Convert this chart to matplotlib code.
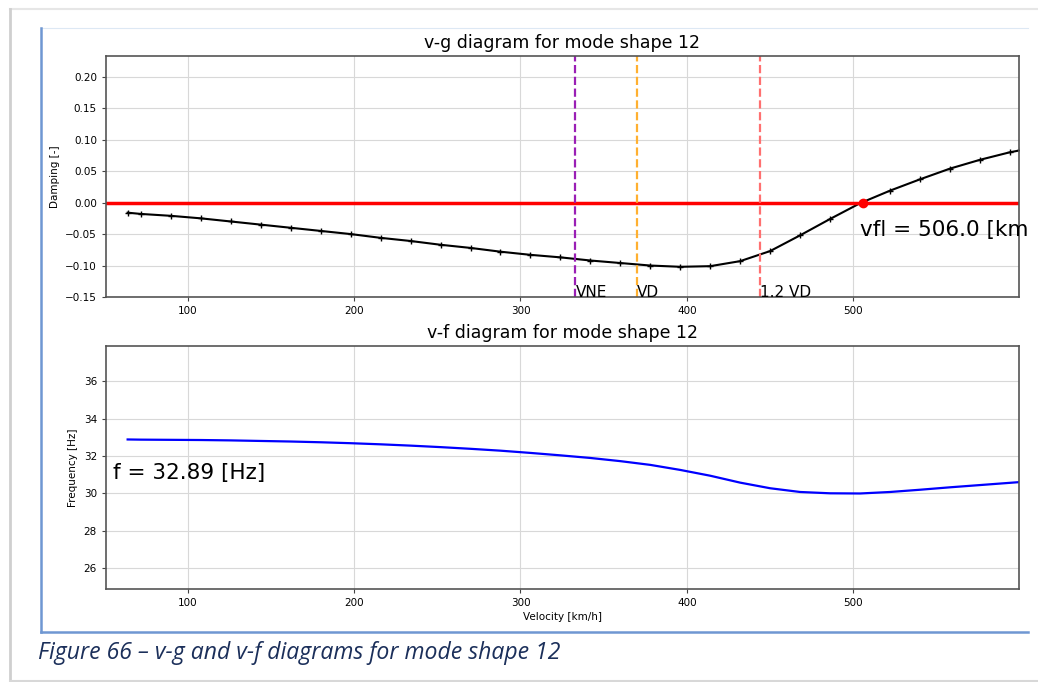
import numpy as np
import matplotlib
matplotlib.use('Agg')
import matplotlib.pyplot as plt
from matplotlib.lines import Line2D

# velocities [km/h] and read-off damping / frequency values
velocity = [64, 72, 90, 108, 126, 144, 162, 180, 198, 216, 234, 252, 270, 288,
            306, 324, 342, 360, 378, 396, 414, 432, 450, 468, 486, 504, 522,
            540, 558, 576, 594, 600]
damping = [-0.016, -0.018, -0.021, -0.025, -0.030, -0.035, -0.040, -0.045,
           -0.050, -0.056, -0.061, -0.067, -0.072, -0.078, -0.083, -0.087,
           -0.092, -0.096, -0.100, -0.102, -0.101, -0.093, -0.077, -0.052,
           -0.026, -0.001, 0.019, 0.037, 0.054, 0.068, 0.080, 0.083]
frequency = [32.89, 32.88, 32.87, 32.86, 32.84, 32.81, 32.78, 32.74, 32.69,
             32.63, 32.56, 32.48, 32.39, 32.29, 32.17, 32.04, 31.90, 31.73,
             31.53, 31.26, 30.95, 30.58, 30.28, 30.08, 30.01, 30.00, 30.08,
             30.20, 30.33, 30.45, 30.57, 30.61]

mode = 12
f0 = 32.89
vfl = 506.0
VD = 370.0
VNE = 0.9 * VD
speeds = [VNE, VD, 1.2 * VD]
speed_names = ['VNE', 'VD', '1.2 VD']
speed_cols = ['#9a1fb5', '#ffb030', '#ff7070']

fig = plt.figure(figsize=(10.38, 6.82), dpi=100)
W, H = 1038., 682.

def px(x0, y0, w, h):
    return [x0 / W, 1 - (y0 + h) / H, w / W, h / H]

# page decorations (document frame around the figure)
def fline(xs, ys, **kw):
    fig.add_artist(Line2D([x / W for x in xs], [1 - y / H for y in ys],
                          transform=fig.transFigure, **kw))

fline([10, 1038], [9, 9], color='#e6e6e6', lw=1.5)
fline([10, 10], [9, 681], color='#cfcfcf', lw=2)
fline([10, 1038], [680.5, 680.5], color='#d8d8d8', lw=1.5)
fline([41, 1028], [28, 28], color='#dde8f4', lw=0.8)
fline([41, 41], [28, 632], color='#6f97d2', lw=1.8)
fline([41, 1028], [631.5, 631.5], color='#6f97d2', lw=1.8)

fig.text(38 / W, 1 - 653 / H, 'Figure 66 \u2013 v-g and v-f diagrams for mode shape 12',
         fontsize=16.6, style='italic', color='#1b2f5a', family='Open Sans',
         va='center', ha='left')

# ---- v-g diagram
ax1 = fig.add_axes(px(106, 56, 913, 241))
ax1.plot(velocity, damping, 'k-+', lw=1.5, ms=5)
ax1.axhline(0, color='red', lw=2.5)
ax1.plot(vfl, 0, 'o', color='red', ms=6)
for v, n, c in zip(speeds, speed_names, speed_cols):
    ax1.axvline(v, color=c, ls='--', lw=1.6)
    ax1.text(v, -0.15, n, fontsize=11, va='baseline', ha='left')
# the label runs off the page in the source; only this part is visible
ax1.text(vfl - 2, -0.053, 'vfl = %.1f [km' % vfl, fontsize=15.5)
ax1.set_xlim(51, 599.5)
ax1.set_ylim(-0.15, 0.233)
ax1.set_yticks(np.arange(-0.15, 0.21, 0.05))
ax1.set_title('v-g diagram for mode shape %d' % mode, fontsize=12.5, pad=6)
ax1.set_ylabel('Damping [-]', fontsize=7.5)

# ---- v-f diagram
ax2 = fig.add_axes(px(106, 346, 913, 243))
ax2.plot(velocity, frequency, color='blue', lw=1.6)
ax2.text(55, f0 - 2.1, 'f = %.2f [Hz]' % f0, fontsize=15.5)
ax2.set_xlim(51, 599.5)
ax2.set_ylim(f0 - 8, f0 + 5)
ax2.set_yticks([26, 28, 30, 32, 34, 36])
ax2.set_title('v-f diagram for mode shape %d' % mode, fontsize=12.5, pad=6)
ax2.set_ylabel('Frequency [Hz]', fontsize=7.5)
ax2.set_xlabel('Velocity [km/h]', fontsize=7.5, labelpad=3)

for ax in (ax1, ax2):
    ax.set_xticks([100, 200, 300, 400, 500])
    ax.grid(True, color='#d8d8d8', lw=0.8)
    ax.tick_params(labelsize=7.5, length=3, color='#444444')
    for s in ax.spines.values():
        s.set_color('#555555')
        s.set_linewidth(1.2)

fig.savefig('out.png', dpi=100)
